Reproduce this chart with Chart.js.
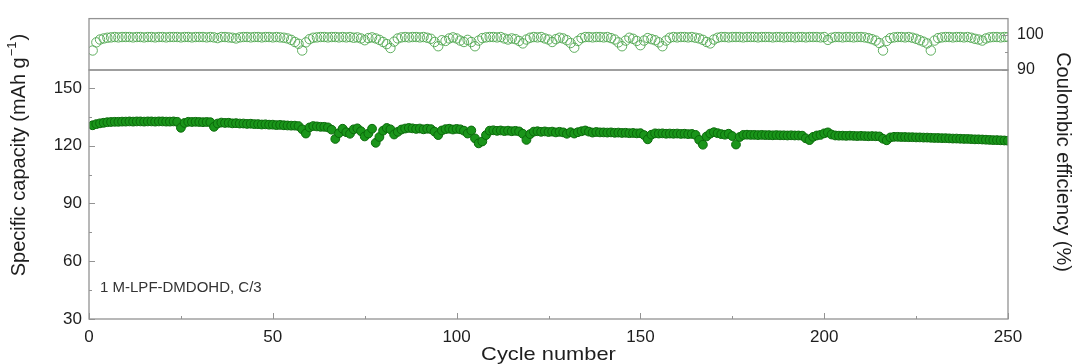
<!DOCTYPE html>
<html><head><meta charset="utf-8">
<script src="https://cdn.jsdelivr.net/npm/chart.js@4.4.1/dist/chart.umd.min.js"></script>
<style>
html,body{margin:0;padding:0;background:#fff;}
#wrap{position:relative;width:1075px;height:364px;overflow:hidden;}
#wrap canvas{position:absolute;left:0;top:0;}
</style></head><body>
<div id="wrap"><canvas id="capChart" width="1075" height="364"></canvas><canvas id="ceChart" width="1075" height="364"></canvas></div>
<script>
// ---- data ----
const cycleTicks = [0, 50, 100, 150, 200, 250];
const cycleMinorTicks = [25, 75, 125, 175, 225];
const capacityTicks = [30, 60, 90, 120, 150];
const capacityMinorTicks = [45, 75, 105, 135];
const ceTicks = [90, 100];
const ceMinorTicks = [95];
const annotationText = '1 M-LPF-DMDOHD, C/3';

const capacity = [
  130.6,131.2,131.6,131.9,132.2,132.3,132.4,132.4,132.5,132.5,
  132.6,132.5,132.6,132.6,132.5,132.6,132.6,132.5,132.6,132.6,
  132.5,132.5,132.6,132.4,129.3,131.8,132.4,132.3,132.4,132.3,
  132.2,132.3,132.2,129.8,131.5,132.0,131.8,131.9,131.6,131.7,
  131.5,131.5,131.3,131.4,131.2,131.2,131.0,131.1,130.9,130.9,
  130.7,130.8,130.6,130.5,130.4,130.4,130.2,128.5,126.3,129.5,
  130.2,130.0,129.8,129.8,129.5,128.3,123.5,126.5,128.8,127.0,
  126.2,128.5,129.0,127.5,124.8,126.3,128.8,121.5,124.5,127.8,
  129.2,128.5,125.8,127.2,128.4,128.9,129.2,129.0,128.7,128.9,
  128.5,128.8,128.6,127.3,125.5,127.9,128.6,128.8,128.4,128.7,
  128.5,127.8,126.3,127.9,123.8,121.2,122.2,125.5,127.8,128.0,
  127.7,127.9,127.6,127.8,127.5,127.7,127.4,126.2,123.0,126.0,
  127.3,127.5,127.2,127.4,127.1,127.3,126.9,127.2,126.9,126.2,
  127.0,126.3,127.0,127.5,127.9,127.3,126.8,127.1,126.9,126.9,
  126.8,126.9,126.7,126.8,126.6,126.7,126.5,126.6,126.4,126.5,
  125.5,123.3,125.7,126.4,126.3,126.4,126.2,126.3,126.2,126.3,
  126.1,126.2,126.0,126.1,125.6,123.0,120.5,124.8,126.3,127.0,
  126.5,126.0,125.7,126.2,125.0,120.6,124.5,125.6,125.7,125.6,
  125.6,125.5,125.6,125.5,125.5,125.4,125.5,125.4,125.4,125.3,
  125.4,125.3,125.3,125.2,123.8,122.9,124.6,125.3,125.6,126.4,
  126.9,125.8,125.3,125.2,125.2,125.1,125.2,125.1,125.0,125.1,
  125.0,124.9,125.0,124.9,124.8,123.6,122.8,124.3,124.6,124.6,
  124.5,124.5,124.4,124.4,124.3,124.3,124.2,124.2,124.1,124.0,
  124.0,123.9,123.9,123.8,123.7,123.7,123.6,123.5,123.5,123.4,
  123.3,123.3,123.2,123.1,123.0,122.9,122.9,122.8,122.7,122.6
];

const coulombicEfficiency = [
  95.5,97.8,98.6,98.9,99.1,99.2,99.3,99.2,99.3,99.3,
  99.3,99.2,99.3,99.3,99.2,99.3,99.3,99.2,99.3,99.3,
  99.2,99.3,99.3,99.3,99.2,99.3,99.3,99.2,99.3,99.3,
  99.3,99.2,99.3,99.2,99.0,99.3,99.3,99.2,99.1,98.9,
  99.2,99.3,99.3,99.2,99.3,99.3,99.2,99.3,99.3,99.2,
  99.3,99.2,99.1,98.9,98.5,97.9,97.4,95.5,97.8,98.7,
  99.1,99.2,99.3,99.3,99.2,99.3,99.3,99.2,99.3,99.2,
  99.3,99.1,99.2,98.9,98.4,99.0,99.2,98.9,98.5,97.9,
  97.3,96.2,98.0,98.9,99.2,99.3,99.2,99.3,99.3,99.2,
  99.3,99.1,98.8,97.9,96.7,98.4,98.2,98.9,99.2,98.9,
  98.3,97.9,98.5,97.9,96.7,98.3,99.0,99.2,99.3,99.3,
  99.2,99.3,98.9,98.6,98.9,98.7,98.2,97.5,98.6,99.1,
  99.3,99.2,99.3,98.9,98.6,97.9,98.7,99.1,98.9,98.4,
  97.6,96.3,98.2,99.0,99.3,99.3,99.2,99.3,99.3,99.2,
  99.3,99.0,98.6,97.8,96.7,98.3,99.1,98.8,98.2,97.0,
  98.3,99.0,98.7,98.4,97.8,96.7,98.3,99.1,99.3,99.2,
  99.3,99.3,99.2,99.3,99.1,98.9,98.5,97.9,97.5,98.6,
  99.1,99.3,99.3,99.2,99.3,99.3,99.3,99.2,99.3,99.3,
  99.3,99.2,99.3,99.3,99.3,99.2,99.3,99.3,99.2,99.3,
  99.3,99.2,99.3,99.3,99.2,99.3,99.3,99.3,99.2,99.3,
  98.5,99.1,99.3,99.3,99.2,99.3,99.3,99.2,99.3,99.3,
  99.2,99.0,98.7,98.3,97.6,95.5,98.2,99.0,99.2,99.3,
  99.3,99.2,99.3,99.1,98.8,98.4,98.0,97.5,95.5,98.3,
  99.0,99.2,99.3,99.3,99.2,99.3,99.3,99.2,99.3,99.1,
  98.8,98.6,98.3,98.9,99.2,99.3,99.3,99.2,99.3,99.3
];

const cycles = capacity.map((_, i) => i + 1);

// ---- styling / helpers ----
const FONT = "'Liberation Sans', Arial, Helvetica, sans-serif";
Chart.defaults.font.family = FONT;
Chart.defaults.color = '#222';

const frameTicks = {
  id: 'frameTicks',
  afterDatasetsDraw(chart, args, opts) {
    const {ctx, chartArea: a} = chart;
    ctx.save();
    ctx.strokeStyle = '#939393';
    ctx.lineWidth = 1.3;
    ctx.strokeRect(a.left, a.top, a.right - a.left, a.bottom - a.top);
    ctx.lineWidth = 1;
    (opts.marks || []).forEach(m => {
      const s = chart.scales[m.scale];
      m.values.forEach(v => {
        const p = Math.round(s.getPixelForValue(v)) + 0.5;
        ctx.beginPath();
        if (m.edge === 'bottom') { ctx.moveTo(p, a.bottom); ctx.lineTo(p, a.bottom - m.len); }
        else if (m.edge === 'left') { ctx.moveTo(a.left, p); ctx.lineTo(a.left + m.len, p); }
        else if (m.edge === 'right') { ctx.moveTo(a.right, p); ctx.lineTo(a.right - m.len, p); }
        ctx.stroke();
      });
    });
    ctx.restore();
  }
};

const textLayer = {
  id: 'textLayer',
  afterDraw(chart) {
    const ctx = chart.ctx;
    const xs = chart.scales.x, ys = chart.scales.y;
    ctx.save();
    ctx.fillStyle = '#1e1e1e';
    ctx.textBaseline = 'middle';

    // left title with superscript
    ctx.save();
    ctx.translate(19, 155);
    ctx.rotate(-Math.PI / 2);
    const mainF = '20px ' + FONT, supF = '13px ' + FONT;
    const p1 = 'Specific capacity (mAh g', p2 = '\u22121', p3 = ')';
    ctx.font = mainF; const w1 = ctx.measureText(p1).width, w3 = ctx.measureText(p3).width;
    ctx.font = supF; const w2 = ctx.measureText(p2).width;
    let x0 = -(w1 + w2 + w3 + 2) / 2;
    ctx.textAlign = 'left';
    ctx.font = mainF; ctx.fillText(p1, x0, 0);
    ctx.font = supF; ctx.fillText(p2, x0 + w1 + 1, -7);
    ctx.font = mainF; ctx.fillText(p3, x0 + w1 + w2 + 2, 0);
    ctx.restore();

    // right title
    ctx.save();
    ctx.translate(1063, 162);
    ctx.rotate(Math.PI / 2);
    ctx.textAlign = 'center';
    ctx.font = '20px ' + FONT;
    ctx.fillText('Coulombic efficiency (%)', 0, 0);
    ctx.restore();

    // bottom title
    ctx.save();
    ctx.translate((xs.left + xs.right) / 2, 355);
    ctx.scale(1.15, 1);
    ctx.textAlign = 'center';
    ctx.font = '19px ' + FONT;
    ctx.fillText('Cycle number', 0, 0);
    ctx.restore();

    // annotation
    ctx.textAlign = 'left';
    ctx.font = '15px ' + FONT;
    ctx.fillStyle = '#333';
    ctx.fillText(annotationText, xs.getPixelForValue(3), ys.getPixelForValue(46.2));
    ctx.restore();
  }
};

// ---- bottom panel: specific capacity ----
new Chart(document.getElementById('capChart'), {
  type: 'scatter',
  data: {
    datasets: [{
      label: 'Specific capacity',
      data: cycles.map((c, i) => ({x: c, y: capacity[i]})),
      pointRadius: 4.4,
      pointBackgroundColor: '#1a951a',
      pointBorderColor: '#0a6a0a',
      pointBorderWidth: 1,
      showLine: false
    }]
  },
  options: {
    responsive: false,
    animation: false,
    events: [],
    layout: {autoPadding: false, padding: {left: 0, right: 67, top: 70, bottom: 0}},
    plugins: {
      legend: {display: false}, tooltip: {enabled: false},
      frameTicks: {marks: [
        {scale: 'x', edge: 'bottom', values: cycleTicks, len: 6},
        {scale: 'x', edge: 'bottom', values: cycleMinorTicks, len: 3},
        {scale: 'y', edge: 'left', values: capacityTicks, len: 6},
        {scale: 'y', edge: 'left', values: capacityMinorTicks, len: 3}
      ]}
    },
    scales: {
      x: {
        type: 'linear', min: 0, max: 250,
        afterBuildTicks: s => { s.ticks = cycleTicks.map(v => ({value: v})); },
        afterFit: s => { s.height = 45; },
        grid: {display: false, drawTicks: false},
        border: {display: false},
        ticks: {padding: 8, font: {size: 17}, color: '#1e1e1e', maxRotation: 0, autoSkip: false}
      },
      y: {
        type: 'linear', min: 30, max: 159.3,
        afterBuildTicks: s => { s.ticks = capacityTicks.map(v => ({value: v})); },
        afterFit: s => { s.width = 89; },
        grid: {display: false, drawTicks: false},
        border: {display: false},
        ticks: {padding: 7, font: {size: 17}, color: '#1e1e1e'}
      }
    }
  },
  plugins: [frameTicks, textLayer]
});

// ---- top panel: coulombic efficiency ----
new Chart(document.getElementById('ceChart'), {
  type: 'scatter',
  data: {
    datasets: [{
      label: 'Coulombic efficiency',
      data: cycles.map((c, i) => ({x: c, y: coulombicEfficiency[i]})),
      pointRadius: 4.7,
      pointBackgroundColor: 'rgba(255,255,255,0)',
      pointBorderColor: '#4ea64e',
      pointBorderWidth: 0.9,
      showLine: false
    }]
  },
  options: {
    responsive: false,
    animation: false,
    events: [],
    layout: {autoPadding: false, padding: {left: 89, right: 0, top: 12, bottom: 294}},
    plugins: {
      legend: {display: false}, tooltip: {enabled: false},
      frameTicks: {marks: [
        {scale: 'y', edge: 'right', values: ceTicks, len: 6},
        {scale: 'y', edge: 'right', values: ceMinorTicks, len: 3}
      ]}
    },
    scales: {
      x: {type: 'linear', min: 0, max: 250, display: false},
      y: {
        type: 'linear', position: 'right', min: 90, max: 104.5,
        afterBuildTicks: s => { s.ticks = ceTicks.map(v => ({value: v})); },
        afterFit: s => { s.width = 67; },
        grid: {display: false, drawTicks: false},
        border: {display: false},
        ticks: {padding: 9, font: {size: 16}, color: '#1e1e1e'}
      }
    }
  },
  plugins: [frameTicks]
});
</script>
</body></html>
